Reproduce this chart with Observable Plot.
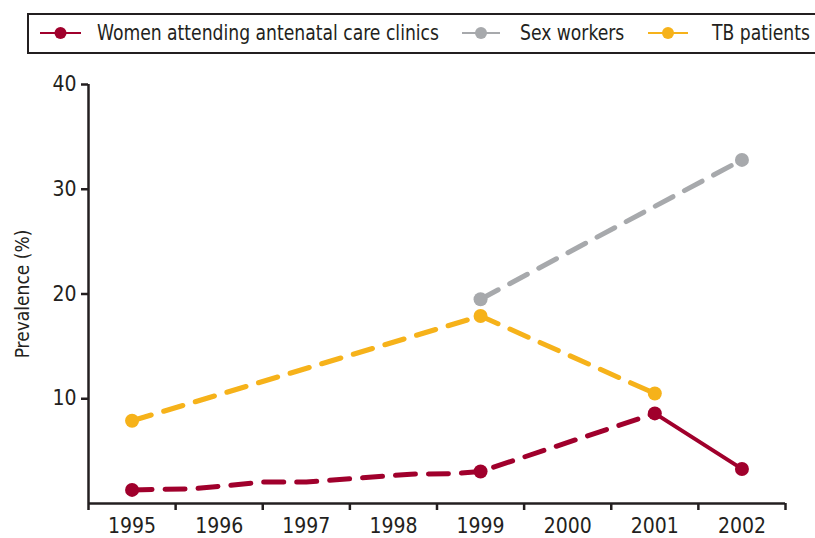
<!DOCTYPE html>
<html>
<head>
<meta charset="utf-8">
<script src="https://cdn.jsdelivr.net/npm/d3@7"></script>
<script src="https://cdn.jsdelivr.net/npm/@observablehq/plot@0.6"></script>
<style>
  body { margin: 0; background: #fff; font-family: "Liberation Sans Narrow", "DejaVu Sans Condensed", "Liberation Sans", sans-serif; color: #231f20; }
  #legend { position: relative; width: 815px; height: 60px; overflow: hidden; }
  #legend .box { position: absolute; left: 27px; top: 13px; width: 800px; height: 37px; border: 2px solid #231f20; border-right: none; }
  #legend .sym { position: absolute; top: 26px; }
  #legend .lab { position: absolute; top: 19px; height: 28px; line-height: 28px; font-size: 21px; white-space: nowrap; transform: scaleX(0.91); transform-origin: 0 50%; }
  #chart { width: 815px; height: 478px; }
</style>
</head>
<body>
<div id="legend"><div class="box"></div></div>
<div id="chart"></div>
<script>
// ---- data ----
const years = [1995, 1996, 1997, 1998, 1999, 2000, 2001, 2002];
const bandEdges = [1994.5, 1995.5, 1996.5, 1997.5, 1998.5, 1999.5, 2000.5, 2001.5, 2002.5];
const yTicks = [10, 20, 30, 40];

const seriesNames = ["Women attending antenatal care clinics", "Sex workers", "TB patients"];
const seriesColors = ["#a0002c", "#a7a9ac", "#f6b21a"];

// Women attending antenatal care clinics (measured points)
const womenYears = [1995, 1999, 2001, 2002];
const womenValues = [1.3, 3.05, 8.6, 3.3];
// dashed estimated trend drawn between 1995 and 2001 (knots)
const womenTrendYears = [1995, 1995.7, 1996.5, 1997.0, 1998.2, 1998.7, 1999, 2001];
const womenTrendValues = [1.3, 1.4, 2.05, 2.05, 2.8, 2.85, 3.05, 8.6];
// solid segment
const womenSolidYears = [2001, 2002];
const womenSolidValues = [8.6, 3.3];

// Sex workers
const swYears = [1999, 2002];
const swValues = [19.5, 32.8];

// TB patients
const tbYears = [1995, 1999, 2001];
const tbValues = [7.9, 17.9, 10.5];

// ---- build tables ----
const toRows = (xs, ys) => xs.map((x, i) => ({x, y: ys[i]}));
const womenPts = toRows(womenYears, womenValues);
const womenTrend = toRows(womenTrendYears, womenTrendValues);
const womenSolid = toRows(womenSolidYears, womenSolidValues);
const swPts = toRows(swYears, swValues);
const tbPts = toRows(tbYears, tbValues);

const ink = "#231f20";
const dash = "20,13";
const font = '"Liberation Sans Narrow", "DejaVu Sans Condensed", "Liberation Sans", sans-serif';

const chart = Plot.plot({
  width: 815,
  height: 478,
  marginLeft: 88,
  marginRight: 30,
  marginTop: 24,
  marginBottom: 35,
  style: {fontFamily: font, color: ink, background: "#fff", overflow: "visible"},
  x: {domain: [1994.5, 2002.5]},
  y: {domain: [0, 40]},
  marks: [
    // axes lines
    Plot.ruleY([0], {stroke: ink, strokeWidth: 2.5}),
    Plot.ruleX([1994.5], {y1: 0, y2: 40, stroke: ink, strokeWidth: 2.5}),
    Plot.axisX({ticks: bandEdges, tickSize: 7, tickFormat: () => "", stroke: ink, strokeWidth: 2.5, label: null}),
    Plot.axisX({ticks: years, tickSize: 0, tickPadding: 15, tickFormat: d => String(d), fontSize: 21, fill: ink, label: null}),
    Plot.axisY({ticks: yTicks, tickSize: 7, tickPadding: 5, strokeWidth: 2.5, stroke: ink, fontSize: 21, fill: ink,
      label: "Prevalence (%)", labelAnchor: "center", labelArrow: "none", labelOffset: 73}),
    // lines
    Plot.line(tbPts, {x: "x", y: "y", stroke: seriesColors[2], strokeWidth: 5, strokeDasharray: dash}),
    Plot.line(swPts, {x: "x", y: "y", stroke: seriesColors[1], strokeWidth: 5, strokeDasharray: dash}),
    Plot.line(womenTrend, {x: "x", y: "y", stroke: seriesColors[0], strokeWidth: 5, strokeDasharray: dash}),
    Plot.line(womenSolid, {x: "x", y: "y", stroke: seriesColors[0], strokeWidth: 4}),
    // dots
    Plot.dot(tbPts, {x: "x", y: "y", r: 7, fill: seriesColors[2]}),
    Plot.dot(swPts, {x: "x", y: "y", r: 7, fill: seriesColors[1]}),
    Plot.dot(womenPts, {x: "x", y: "y", r: 7, fill: seriesColors[0]})
  ]
});
d3.select(chart).selectAll("g[aria-label='y-axis label'] text").attr("font-size", 19);
document.getElementById("chart").appendChild(chart);

// ---- legend ----
const legend = document.getElementById("legend");
const symbolLefts = [40, 462, 648];
const symbolWidths = [41, 38, 40];
const labelLefts = [97, 520, 712];
seriesNames.forEach((name, i) => {
  const sym = document.createElement("div");
  sym.className = "sym";
  sym.style.left = symbolLefts[i] + "px";
  const w = symbolWidths[i];
  sym.innerHTML = `<svg width="${w}" height="14" style="display:block"><line x1="0" x2="${w}" y1="7" y2="7" stroke="${seriesColors[i]}" stroke-width="2"/><circle cx="${w / 2}" cy="7" r="6" fill="${seriesColors[i]}"/></svg>`;
  legend.appendChild(sym);
  const lab = document.createElement("div");
  lab.className = "lab";
  lab.style.left = labelLefts[i] + "px";
  lab.textContent = name;
  legend.appendChild(lab);
});
</script>
</body>
</html>
